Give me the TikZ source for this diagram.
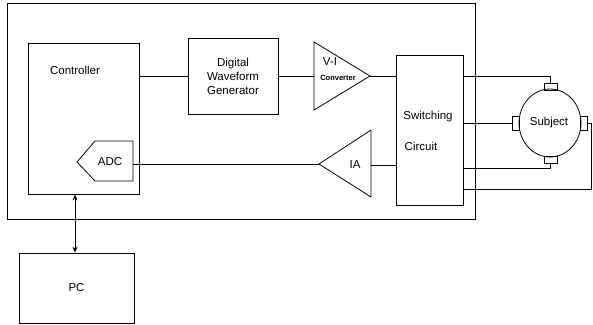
\documentclass[tikz,border=0pt]{standalone}
\usepackage{fontspec}
\setmainfont{Liberation Sans}
\usetikzlibrary{arrows.meta,shapes.geometric}
\begin{document}
\begin{tikzpicture}[x=1pt,y=-1pt,
  line width=0.8pt,
  box/.style={draw, inner sep=0pt},
  lbl/.style={font=\fontsize{11.5}{14}\selectfont, inner sep=0pt, align=center},
  tiny/.style={font=\fontsize{7.5}{9}\selectfont\bfseries, inner sep=0pt},
  dblarrow/.style={{Stealth[length=6pt,width=5pt]}-{Stealth[length=6pt,width=5pt]}}
]
\useasboundingbox (0,0) rectangle (593,324);
% outer enclosure
\node[box, minimum width=468pt, minimum height=216pt] (outer) at (241,111) {};
% controller
\node[box, minimum width=111pt, minimum height=151pt] (ctrl) at (83.5,118.5) {};
\node[lbl] (ctrltxt) at (75,70) {Controller};
% ADC
\draw (77,162) -- (95,141) -- (133,141) -- (133,181) -- (95,181) -- cycle;
\node[lbl] (adc) at (110,162) {ADC};
\coordinate (adcout) at (133,164);
% DWG
\node[box, minimum width=90pt, minimum height=76pt, lbl] (dwg) at (233,76) {Digital\\Waveform\\Generator};
% V-I converter
\draw (314,42) -- (370,76) -- (314,110) -- cycle;
\node[lbl] (vi) at (330,62) {V-I};
\node[tiny] (conv) at (338,78) {Converter};
\coordinate (viin) at (314,76);
\coordinate (viout) at (370,76);
% IA
\draw (319,164) -- (371,130) -- (371,197) -- cycle;
\node[lbl] (ia) at (355,165) {IA};
\coordinate (iain) at (371,165);
\coordinate (iaout) at (319,164);
% switching
\node[box, minimum width=67pt, minimum height=150pt] (sw) at (429.5,130) {};
\node[lbl] (swtxt1) at (428,117) {Switching};
\node[lbl] (swtxt2) at (421,146) {Circuit};
% subject
\node[draw, ellipse, minimum width=62pt, minimum height=68pt, inner sep=0pt] (subj) at (550,123) {};
\node[lbl] (subjtxt) at (549,123) {Subject};
\node[box, minimum width=13pt, minimum height=7pt] (etop) at (550.5,86.5) {};
\node[box, minimum width=7pt, minimum height=14pt] (eleft) at (515.5,123) {};
\node[box, minimum width=7pt, minimum height=14pt] (eright) at (583.5,123) {};
\node[box, minimum width=13pt, minimum height=7pt] (ebot) at (550.5,159.5) {};
% PC
\node[box, minimum width=115pt, minimum height=70pt, lbl] (pc) at (76.5,288) {PC};
% connectors
\draw (ctrl.east |- dwg.west) -- (dwg.west);
\draw (dwg.east) -- (viin);
\draw (viout) -- (viout -| sw.west);
\draw (iain) -- (iain -| sw.west);
\draw (adcout) -- (iaout);
\draw (sw.east |- 0,76) -| (etop.north);
\draw (sw.east |- eleft.west) -- (eleft.west);
\draw (sw.east |- 0,168) -| (ebot.south);
\draw (eright.east) -- (591,123) -- (591,189) -- (sw.east |- 0,189);
\draw[dblarrow] (ctrl.south -| 75,0) -- (pc.north -| 75,0);
\end{tikzpicture}
\end{document}
